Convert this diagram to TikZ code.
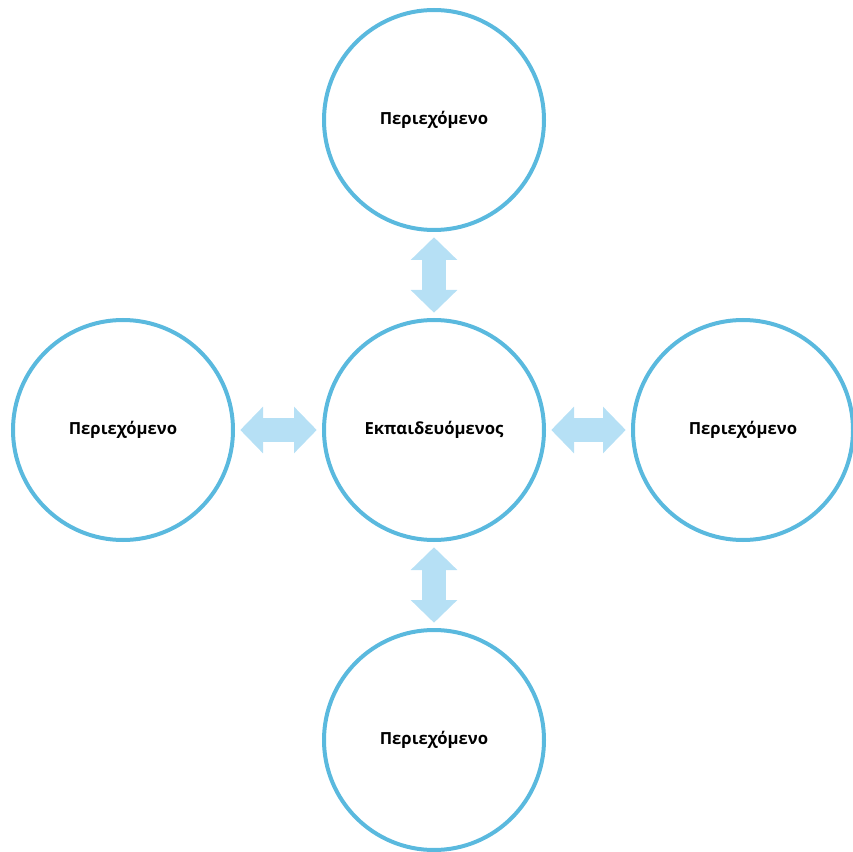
\documentclass[tikz,border=0pt]{standalone}
\usepackage{fontspec}
\setmainfont{Open Sans}
\usetikzlibrary{arrows.meta}
\definecolor{ringblue}{RGB}{90,185,222}
\definecolor{arrowblue}{RGB}{182,224,245}
\begin{document}
\begin{tikzpicture}[x=0.75pt,y=-0.75pt,
        circ/.style={circle,draw=ringblue,line width=3pt,minimum size=165pt,inner sep=0pt,font=\bfseries\fontsize{12.5}{15}\selectfont},
        dbl/.style={draw=arrowblue,line width=18pt,{Triangle[length=17pt,width=35pt,line width=0pt]}-{Triangle[length=17pt,width=35pt,line width=0pt]},shorten <=4pt,shorten >=4pt}]
    \useasboundingbox (0,0) rectangle (853,852);
    
    \node[circ] (learner) at (434,430) {Εκπαιδευόμενος};
    \foreach \n/\x/\y in {up/434/120,lft/123/430,rgt/743/430,dn/434/740}
        \node[circ] (\n) at (\x,\y) {Περιεχόμενο};
    
    \foreach \n in {up,lft,rgt,dn}
        \draw[dbl] (learner) -- (\n);
\end{tikzpicture}
\end{document}
